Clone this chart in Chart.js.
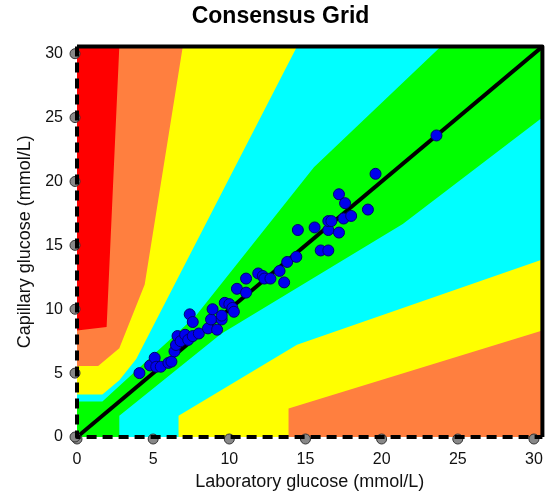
<!DOCTYPE html>
<html>
<head>
<meta charset="utf-8">
<script src="https://cdn.jsdelivr.net/npm/chart.js@4.4.1/dist/chart.umd.min.js"></script>
<style>
  html, body { margin: 0; padding: 0; background: #fff; }
  #wrap { width: 556px; height: 494px; }
</style>
</head>
<body>
<div id="wrap"><canvas id="grid" width="556" height="494"></canvas></div>
<script>
// consensus (Parkes) error grid, type 1 – vertices in mg/dL
const MGDL = 18;
const axisMax = 550;

const zoneE = [[0, 0], [550, 0], [550, 550], [0, 550]];
const zoneD = [[0, 150], [35, 155], [50, 550], [550, 550], [550, 0], [0, 0]];
const zoneC = [[0, 100], [25, 100], [50, 125], [80, 215], [125, 550], [550, 550],
               [550, 150], [250, 40], [250, 0], [0, 0]];
const zoneB = [[0, 60], [30, 60], [50, 80], [70, 110], [260, 550], [550, 550],
               [550, 250], [260, 130], [120, 30], [120, 0], [0, 0]];
const zoneA = [[0, 50], [30, 50], [140, 170], [280, 380], [430, 550], [550, 550],
               [550, 450], [385, 300], [170, 145], [50, 30], [50, 0], [0, 0]];

// measurements, mmol/L
const labGlucose = [4.1, 4.8, 5.1, 5.2, 5.5, 6.0, 6.2, 6.4, 6.5, 6.6, 6.8, 7.1, 7.3, 7.4, 7.6, 7.6,
  8.0, 8.6, 8.8, 8.9, 9.2, 9.5, 9.5, 9.7, 10.0, 10.2, 10.3, 10.5, 11.1, 11.1, 11.9, 12.2, 12.3,
  12.7, 13.3, 13.6, 13.8, 14.4, 14.5, 15.6, 16.0, 16.5, 16.5, 16.5, 16.7, 17.2, 17.2, 17.5,
  17.6, 18.0, 19.1, 19.6, 23.6];
const capGlucose = [5.0, 5.6, 6.2, 5.5, 5.5, 5.8, 5.9, 6.7, 7.2, 7.9, 7.5, 8.0, 7.6, 9.6, 9.0, 7.9,
  8.1, 8.5, 9.2, 10.0, 8.4, 9.2, 9.5, 10.5, 10.4, 10.1, 9.8, 11.6, 11.3, 12.4, 12.8, 12.6, 12.4,
  12.4, 13.0, 12.1, 13.7, 14.1, 16.2, 16.4, 14.6, 14.6, 16.2, 16.9, 16.9, 19.0, 16.0, 17.1,
  18.3, 17.3, 17.8, 20.6, 23.6];

const xTicks = [0, 5, 10, 15, 20, 25, 30];

const toPts = (poly) => poly.map(([x, y]) => ({ x: x / MGDL, y: y / MGDL }));
const axisTop = axisMax / MGDL;
const FONT = "Liberation Sans, Arial, sans-serif";

function zone(poly, color, order) {
  return {
    type: "scatter",
    data: toPts(poly),
    showLine: true,
    fill: "shape",
    backgroundColor: color,
    borderWidth: 0,
    pointRadius: 0,
    pointHoverRadius: 0,
    order: order
  };
}

const frame = {
  id: "frame",
  afterDatasetsDraw(chart) {
    const { ctx, chartArea: a, scales } = chart;
    ctx.save();
    // tick knobs
    ctx.fillStyle = "#888";
    ctx.strokeStyle = "#333";
    ctx.lineWidth = 1;
    xTicks.forEach(v => {
      const px = scales.x.getPixelForValue(v);
      ctx.beginPath(); ctx.arc(px, a.bottom + 2, 5, 0, Math.PI * 2); ctx.fill(); ctx.stroke();
      const py = scales.y.getPixelForValue(v);
      ctx.beginPath(); ctx.arc(a.left - 2, py, 5, 0, Math.PI * 2); ctx.fill(); ctx.stroke();
    });
    ctx.strokeStyle = "#000";
    ctx.lineWidth = 4;
    ctx.lineJoin = "round";
    ctx.beginPath();
    ctx.moveTo(a.left, a.top);
    ctx.lineTo(a.right, a.top);
    ctx.lineTo(a.right, a.bottom);
    ctx.stroke();
    ctx.setLineDash([10, 6]);
    ctx.beginPath();
    ctx.moveTo(a.left, a.top);
    ctx.lineTo(a.left, a.bottom);
    ctx.lineTo(a.right, a.bottom);
    ctx.stroke();
    ctx.restore();
  }
};

new Chart(document.getElementById("grid"), {
  type: "scatter",
  data: {
    datasets: [
      {
        data: labGlucose.map((x, i) => ({ x: x, y: capGlucose[i] })),
        pointRadius: 5.5,
        backgroundColor: "#0000ee",
        borderColor: "#000070",
        borderWidth: 1,
        order: 0
      },
      {
        data: [{ x: 0, y: 0 }, { x: axisTop, y: axisTop }],
        showLine: true,
        borderColor: "#000",
        borderWidth: 4,
        pointRadius: 0,
        order: 1
      },
      zone(zoneA, "#00ff00", 2),
      zone(zoneB, "#00ffff", 3),
      zone(zoneC, "#ffff00", 4),
      zone(zoneD, "#ff7f3f", 5),
      zone(zoneE, "#ff0000", 6)
    ]
  },
  options: {
    responsive: false,
    animation: false,
    layout: { padding: { left: 14, right: 9, top: 0, bottom: 1 } },
    plugins: {
      legend: { display: false },
      tooltip: { enabled: false },
      title: {
        display: true,
        text: "Consensus Grid",
        color: "#000",
        font: { family: FONT, size: 23, weight: "bold" },
        padding: { top: 3, bottom: 16 }
      }
    },
    scales: {
      x: {
        type: "linear",
        min: 0,
        max: axisTop,
        afterFit: (s) => { s.height = 56; },
        grid: { display: false, drawTicks: false },
        border: { display: false },
        ticks: {
          stepSize: 5,
          includeBounds: false,
          maxRotation: 0,
          padding: 13,
          color: "#111",
          font: { family: FONT, size: 16 }
        },
        title: {
          display: true,
          text: "Laboratory glucose (mmol/L)",
          color: "#111",
          font: { family: FONT, size: 18 },
          padding: 0
        }
      },
      y: {
        type: "linear",
        min: 0,
        max: axisTop,
        afterFit: (s) => { s.width = 63; },
        grid: { display: false, drawTicks: false },
        border: { display: false },
        ticks: {
          stepSize: 5,
          includeBounds: false,
          padding: 14,
          color: "#111",
          font: { family: FONT, size: 16 }
        },
        title: {
          display: true,
          text: "Capillary glucose (mmol/L)",
          color: "#111",
          font: { family: FONT, size: 18 },
          padding: 0
        }
      }
    }
  },
  plugins: [frame]
});
</script>
</body>
</html>
